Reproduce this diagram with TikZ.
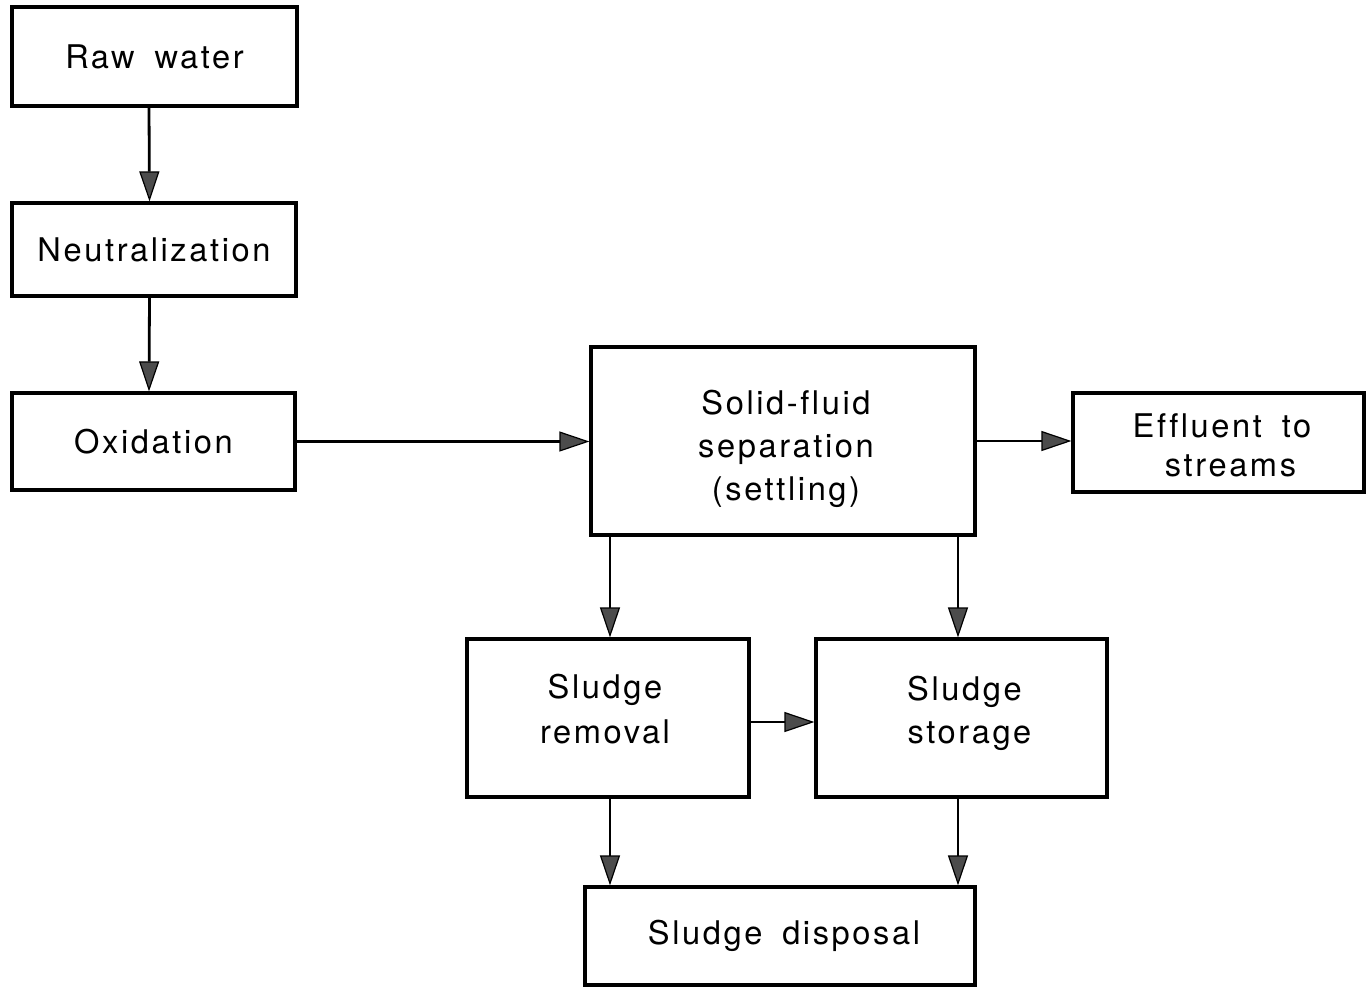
\documentclass[tikz,border=0pt]{standalone}
\usepackage{fontspec}
\setmainfont{TeX Gyre Heros}[LetterSpace=8,WordSpace=1.7,Ligatures=NoCommon]
\usetikzlibrary{arrows.meta}
\newcommand{\lns}[2]{\raisebox{#1}[\height][\depth]{\begin{tabular}{@{}c@{}}#2\end{tabular}}}
\begin{document}
\begin{tikzpicture}[x=0.5pt,y=-0.5pt,
  box/.style={draw,line width=1.6pt,inner sep=0pt,align=center,
    font=\fontsize{16.3pt}{21.5pt}\selectfont},
  arr/.style={line width=1.4pt,-{Triangle[length=15pt,width=10pt,fill=black!70,line width=0.6pt]}}]
\useasboundingbox (0,0) rectangle (1371,987);
\node[box,minimum width=142.5pt,minimum height=49.5pt] (raw) at (154.5,56.5) {Raw water};
\node[box,minimum width=142pt,minimum height=46.5pt] (neut) at (154,249.5) {Neutralization};
\node[box,minimum width=141.5pt,minimum height=48.5pt] (oxid) at (153.5,441.5) {Oxidation};
\node[box,minimum width=192pt,minimum height=94pt] (solid) at (783,441)
  {\lns{-4pt}{\hspace*{3pt}Solid-fluid\\\hspace*{3pt}separation\\\hspace*{3pt}(settling)}};
\node[box,minimum width=145.5pt,minimum height=49.5pt] (eff) at (1218.5,442.5)
  {\fontsize{16.3pt}{19.5pt}\selectfont\lns{-3.5pt}{\hspace*{3.5pt}Effluent to\\\hspace*{12pt}streams}};
\node[box,minimum width=141pt,minimum height=79pt] (rem) at (608,718)
  {\fontsize{16.3pt}{22.5pt}\selectfont\lns{3pt}{Sludge\\removal}\hspace*{3pt}};
\node[box,minimum width=145.5pt,minimum height=79pt] (sto) at (961.5,718)
  {\lns{2.5pt}{\hspace*{3pt}Sludge\\\hspace*{8pt}storage}};
\node[box,minimum width=195pt,minimum height=49pt] (disp) at (780,936) {\hspace*{4pt}Sludge disposal};
\draw[arr] ([xshift=-2.75pt]raw.south) -- ([xshift=-2.25pt]neut.north);
\draw[arr] ([xshift=-2.25pt]neut.south) -- ([xshift=-2.25pt]oxid.north);
\draw[arr] (oxid.east) -- (oxid.east -| solid.west);
\draw[arr] (solid.east) -- (solid.east -| eff.west);
\draw[arr] ([xshift=1pt]solid.south -| rem.north) -- ([xshift=1pt]rem.north);
\draw[arr] ([xshift=-1.75pt]solid.south -| sto.north) -- ([xshift=-1.75pt]sto.north);
\draw[arr] ([yshift=-2pt]rem.east) -- ([yshift=-2pt]rem.east -| sto.west);
\draw[arr] ([xshift=1pt]rem.south) -- ([xshift=1pt]rem.south |- disp.north);
\draw[arr] ([xshift=-1.75pt]sto.south) -- ([xshift=-1.75pt]sto.south |- disp.north);
\end{tikzpicture}
\end{document}
